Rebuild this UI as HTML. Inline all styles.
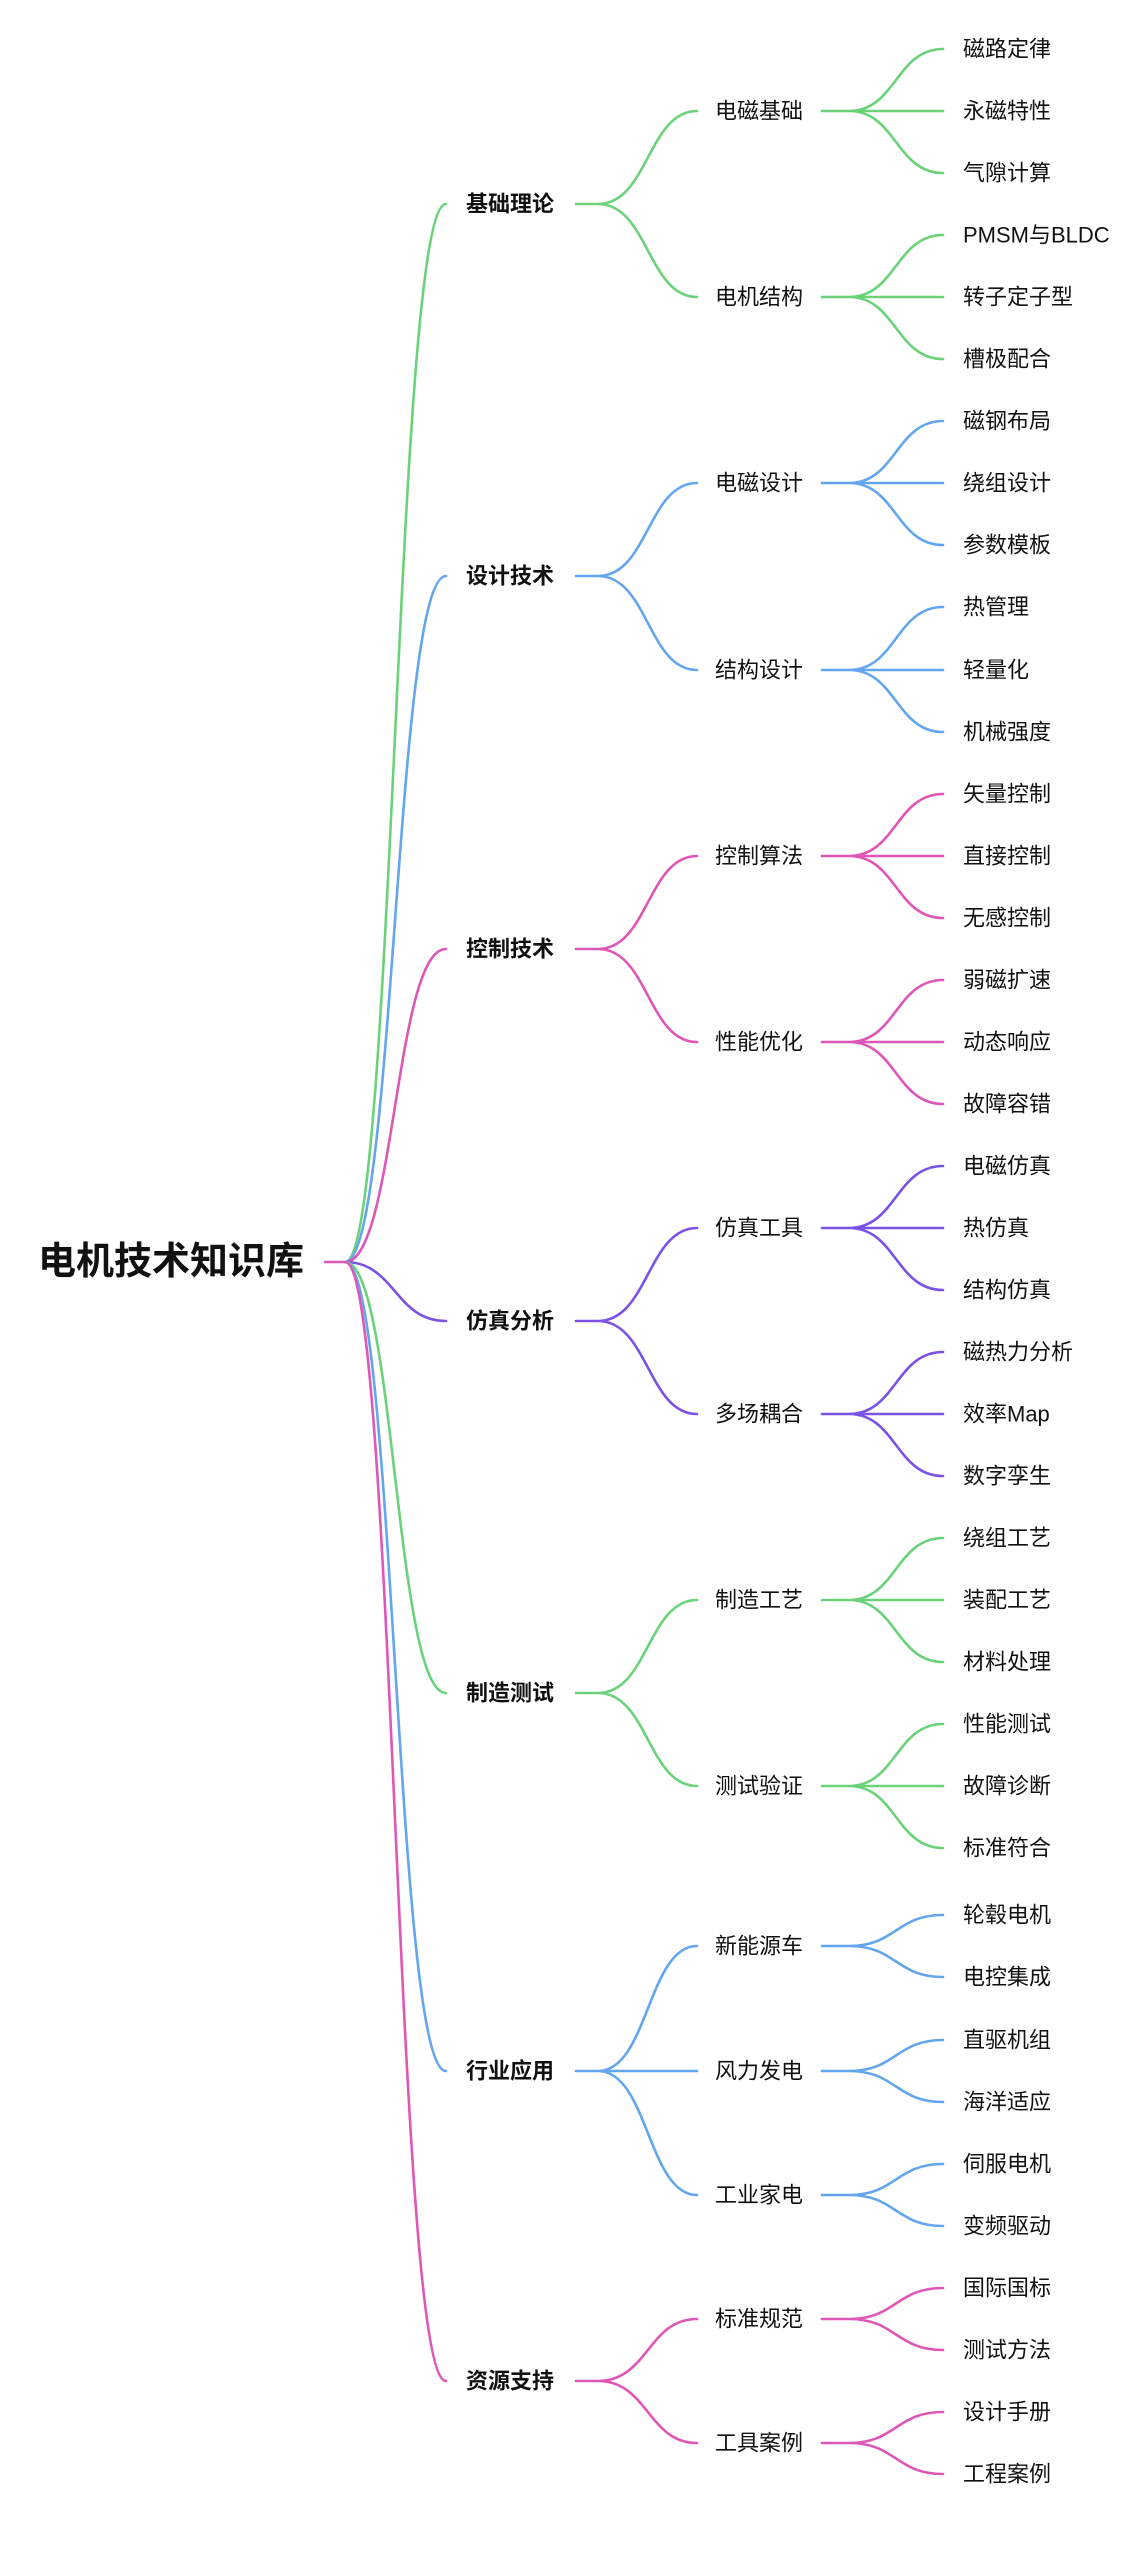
<!DOCTYPE html>
<html><head><meta charset="utf-8"><style>
html,body{margin:0;padding:0;background:#fff;}
svg{display:block;}
text{font-family:"Liberation Sans","Noto Sans CJK SC",sans-serif;font-size:22px;fill:#111;dominant-baseline:central;}
.b{font-weight:bold;}
.r{font-size:38px;font-weight:bold;}
path{fill:none;stroke-width:2.6;stroke-linecap:round;}
.g{stroke:#6bd27a;}.u{stroke:#63a6ee;}.p{stroke:#de57b6;}.v{stroke:#7a52e6;}
</style></head><body>
<svg width="1148" height="2560" viewBox="0 0 1148 2560" xmlns="http://www.w3.org/2000/svg">
<text x="38" y="1262" class="r">电机技术知识库</text>
<path class="p" d="M325 1262 L345 1262"/>
<path class="g" d="M345 1262 C395 1262 395 204 446 204"/>
<path class="u" d="M345 1262 C395 1262 395 576 446 576"/>
<path class="p" d="M345 1262 C395 1262 395 949 446 949"/>
<path class="v" d="M345 1262 C395 1262 395 1321 446 1321"/>
<path class="g" d="M345 1262 C395 1262 395 1693 446 1693"/>
<path class="u" d="M345 1262 C395 1262 395 2071 446 2071"/>
<path class="p" d="M345 1262 C395 1262 395 2381 446 2381"/>

<text x="466" y="204" class="b">基础理论</text>
<text x="466" y="576" class="b">设计技术</text>
<text x="466" y="949" class="b">控制技术</text>
<text x="466" y="1321" class="b">仿真分析</text>
<text x="466" y="1693" class="b">制造测试</text>
<text x="466" y="2071" class="b">行业应用</text>
<text x="466" y="2381" class="b">资源支持</text>

<path class="g" d="M576 204 L598 204 C648 204 648 111 697 111 M598 204 C648 204 648 297 697 297"/>
<path class="u" d="M576 576 L598 576 C648 576 648 483 697 483 M598 576 C648 576 648 670 697 670"/>
<path class="p" d="M576 949 L598 949 C648 949 648 856 697 856 M598 949 C648 949 648 1042 697 1042"/>
<path class="v" d="M576 1321 L598 1321 C648 1321 648 1228 697 1228 M598 1321 C648 1321 648 1414 697 1414"/>
<path class="g" d="M576 1693 L598 1693 C648 1693 648 1600 697 1600 M598 1693 C648 1693 648 1786 697 1786"/>
<path class="u" d="M576 2071 L598 2071 C648 2071 648 1946 697 1946 M598 2071 L697 2071 M598 2071 C648 2071 648 2195 697 2195"/>
<path class="p" d="M576 2381 L598 2381 C648 2381 648 2319 697 2319 M598 2381 C648 2381 648 2443 697 2443"/>

<text x="715" y="111">电磁基础</text>
<text x="715" y="297">电机结构</text>
<text x="715" y="483">电磁设计</text>
<text x="715" y="670">结构设计</text>
<text x="715" y="856">控制算法</text>
<text x="715" y="1042">性能优化</text>
<text x="715" y="1228">仿真工具</text>
<text x="715" y="1414">多场耦合</text>
<text x="715" y="1600">制造工艺</text>
<text x="715" y="1786">测试验证</text>
<text x="715" y="1946">新能源车</text>
<text x="715" y="2071">风力发电</text>
<text x="715" y="2195">工业家电</text>
<text x="715" y="2319">标准规范</text>
<text x="715" y="2443">工具案例</text>

<path class="g" d="M822 111 L849 111 C896 111 896 49 943 49 M849 111 L943 111 M849 111 C896 111 896 173 943 173"/>
<path class="g" d="M822 297 L849 297 C896 297 896 235 943 235 M849 297 L943 297 M849 297 C896 297 896 359 943 359"/>
<path class="u" d="M822 483 L849 483 C896 483 896 421 943 421 M849 483 L943 483 M849 483 C896 483 896 545 943 545"/>
<path class="u" d="M822 670 L849 670 C896 670 896 607 943 607 M849 670 L943 670 M849 670 C896 670 896 732 943 732"/>
<path class="p" d="M822 856 L849 856 C896 856 896 794 943 794 M849 856 L943 856 M849 856 C896 856 896 918 943 918"/>
<path class="p" d="M822 1042 L849 1042 C896 1042 896 980 943 980 M849 1042 L943 1042 M849 1042 C896 1042 896 1104 943 1104"/>
<path class="v" d="M822 1228 L849 1228 C896 1228 896 1166 943 1166 M849 1228 L943 1228 M849 1228 C896 1228 896 1290 943 1290"/>
<path class="v" d="M822 1414 L849 1414 C896 1414 896 1352 943 1352 M849 1414 L943 1414 M849 1414 C896 1414 896 1476 943 1476"/>
<path class="g" d="M822 1600 L849 1600 C896 1600 896 1538 943 1538 M849 1600 L943 1600 M849 1600 C896 1600 896 1662 943 1662"/>
<path class="g" d="M822 1786 L849 1786 C896 1786 896 1724 943 1724 M849 1786 L943 1786 M849 1786 C896 1786 896 1848 943 1848"/>
<path class="u" d="M822 1946 L849 1946 C896 1946 896 1915 943 1915 M849 1946 C896 1946 896 1977 943 1977"/>
<path class="u" d="M822 2071 L849 2071 C896 2071 896 2040 943 2040 M849 2071 C896 2071 896 2102 943 2102"/>
<path class="u" d="M822 2195 L849 2195 C896 2195 896 2164 943 2164 M849 2195 C896 2195 896 2226 943 2226"/>
<path class="p" d="M822 2319 L849 2319 C896 2319 896 2288 943 2288 M849 2319 C896 2319 896 2350 943 2350"/>
<path class="p" d="M822 2443 L849 2443 C896 2443 896 2412 943 2412 M849 2443 C896 2443 896 2474 943 2474"/>

<text x="963" y="49">磁路定律</text>
<text x="963" y="111">永磁特性</text>
<text x="963" y="173">气隙计算</text>
<text x="963" y="235">PMSM与BLDC</text>
<text x="963" y="297">转子定子型</text>
<text x="963" y="359">槽极配合</text>
<text x="963" y="421">磁钢布局</text>
<text x="963" y="483">绕组设计</text>
<text x="963" y="545">参数模板</text>
<text x="963" y="607">热管理</text>
<text x="963" y="670">轻量化</text>
<text x="963" y="732">机械强度</text>
<text x="963" y="794">矢量控制</text>
<text x="963" y="856">直接控制</text>
<text x="963" y="918">无感控制</text>
<text x="963" y="980">弱磁扩速</text>
<text x="963" y="1042">动态响应</text>
<text x="963" y="1104">故障容错</text>
<text x="963" y="1166">电磁仿真</text>
<text x="963" y="1228">热仿真</text>
<text x="963" y="1290">结构仿真</text>
<text x="963" y="1352">磁热力分析</text>
<text x="963" y="1414">效率Map</text>
<text x="963" y="1476">数字孪生</text>
<text x="963" y="1538">绕组工艺</text>
<text x="963" y="1600">装配工艺</text>
<text x="963" y="1662">材料处理</text>
<text x="963" y="1724">性能测试</text>
<text x="963" y="1786">故障诊断</text>
<text x="963" y="1848">标准符合</text>
<text x="963" y="1915">轮毂电机</text>
<text x="963" y="1977">电控集成</text>
<text x="963" y="2040">直驱机组</text>
<text x="963" y="2102">海洋适应</text>
<text x="963" y="2164">伺服电机</text>
<text x="963" y="2226">变频驱动</text>
<text x="963" y="2288">国际国标</text>
<text x="963" y="2350">测试方法</text>
<text x="963" y="2412">设计手册</text>
<text x="963" y="2474">工程案例</text>
</svg>
</body></html>
